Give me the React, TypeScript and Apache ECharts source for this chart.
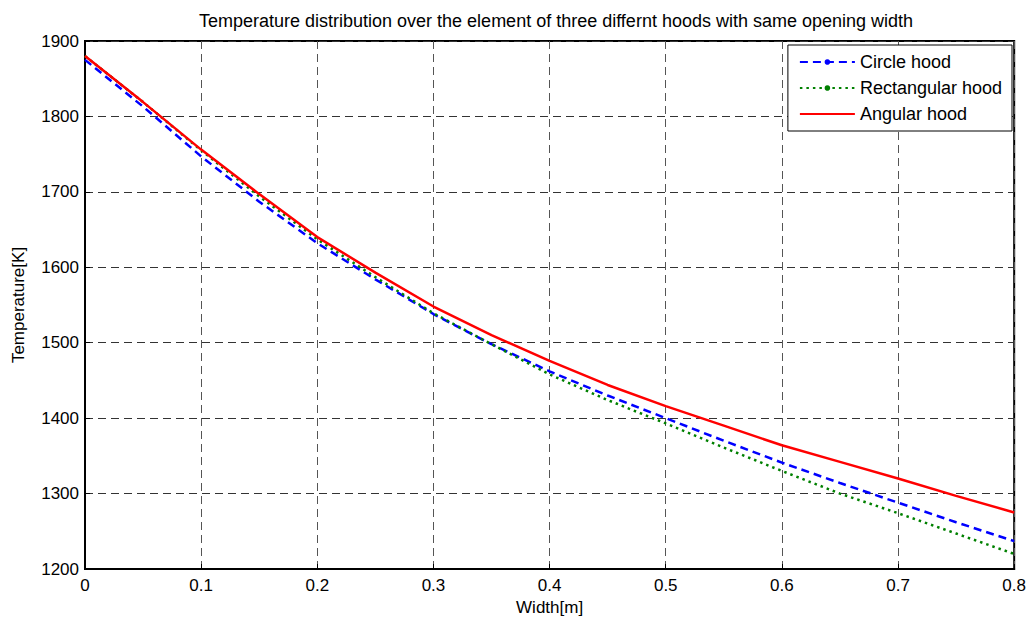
import React, { useEffect, useRef } from "react";
import * as echarts from "echarts";

const widths = [0, 0.05, 0.1, 0.15, 0.2, 0.25, 0.3, 0.35, 0.4, 0.45, 0.5, 0.55, 0.6, 0.65, 0.7, 0.75, 0.8];
const circleHood = [1875, 1813, 1747, 1687, 1632, 1584, 1538, 1498, 1462, 1430, 1400, 1370, 1341, 1314, 1288, 1262, 1237];
const rectangularHood = [1880, 1819, 1755, 1694, 1637, 1587, 1539, 1498, 1458, 1424, 1393, 1361, 1330, 1300, 1274, 1247, 1220];
const angularHood = [1880, 1819, 1756, 1697, 1640, 1593, 1548, 1510, 1476, 1444, 1416, 1390, 1364, 1342, 1320, 1297, 1275];

const seriesNames = ["Circle hood", "Rectangular hood", "Angular hood"];
const titleText = "Temperature distribution over the element of three differnt hoods with same opening width";

const FONT = "'Liberation Sans', Arial, sans-serif";

function pairs(ys: number[]) {
  return widths.map((w, i) => [w, ys[i]]);
}

export default function App() {
  const ref = useRef<HTMLDivElement>(null);
  useEffect(() => {
    if (!ref.current) return;
    const chart = echarts.init(ref.current, undefined, { renderer: "svg" });
    chart.setOption({
      animation: false,
      backgroundColor: "#ffffff",
      title: {
        text: titleText,
        left: 551,
        textAlign: "center",
        top: 7,
        textStyle: { fontFamily: FONT, fontSize: 18, fontWeight: "normal", color: "#000" },
      },
      grid: {
        left: 85,
        right: 12,
        top: 41,
        bottom: 52,
        show: true,
        borderColor: "#000",
        borderWidth: 2,
        backgroundColor: "#fff",
      },
      legend: {
        orient: "vertical",
        right: 17,
        top: 45,
        align: "left",
        backgroundColor: "#fff",
        borderColor: "#000",
        borderWidth: 1,
        padding: [8, 10, 8, 11],
        itemWidth: 55,
        itemHeight: 7,
        itemGap: 8,
        textStyle: { fontFamily: FONT, fontSize: 18, color: "#000", lineHeight: 18 },
        data: [
          { name: seriesNames[0] },
          { name: seriesNames[1] },
          { name: seriesNames[2], itemStyle: { opacity: 0 } },
        ],
      },
      xAxis: {
        type: "value",
        min: 0,
        max: 0.8,
        interval: 0.1,
        name: "Width[m]",
        nameLocation: "middle",
        nameGap: 29,
        nameTextStyle: { fontFamily: FONT, fontSize: 17, color: "#000" },
        axisLine: { show: true, lineStyle: { color: "#000", width: 2 } },
        axisTick: { show: true, inside: true, length: 5, lineStyle: { color: "#000", width: 1 } },
        axisLabel: {
          fontFamily: FONT,
          fontSize: 17,
          color: "#000",
          margin: 8,
          formatter: (v: number) => (v === 0 ? "0" : String(Math.round(v * 10) / 10)),
        },
        splitLine: { show: true, lineStyle: { color: "#555", type: [8, 5], width: 1 } },
      },
      yAxis: {
        type: "value",
        min: 1200,
        max: 1900,
        interval: 100,
        name: "Temperature[K]",
        nameLocation: "middle",
        nameGap: 58,
        nameTextStyle: { fontFamily: FONT, fontSize: 17, color: "#000" },
        axisLine: { show: true, lineStyle: { color: "#000", width: 2 } },
        axisTick: { show: true, inside: true, length: 5, lineStyle: { color: "#000", width: 1 } },
        axisLabel: {
          fontFamily: FONT,
          fontSize: 17,
          color: "#000",
          margin: 6,
          formatter: (v: number) => String(v),
        },
        splitLine: { show: true, lineStyle: { color: "#333", type: [8, 5], width: 1 } },
      },
      series: [
        {
          name: seriesNames[0],
          type: "line",
          data: pairs(circleHood),
          symbol: "circle",
          showSymbol: false,
          itemStyle: { color: "#0000ff" },
          lineStyle: { color: "#0000ff", width: 2.5, type: [8, 5] },
          z: 3,
        },
        {
          name: seriesNames[1],
          type: "line",
          data: pairs(rectangularHood),
          symbol: "circle",
          showSymbol: false,
          itemStyle: { color: "#008000" },
          lineStyle: { color: "#008000", width: 2.5, type: [2.5, 4] },
          z: 4,
        },
        {
          name: seriesNames[2],
          type: "line",
          data: pairs(angularHood),
          symbol: "none",
          showSymbol: false,
          itemStyle: { color: "#ff0000" },
          lineStyle: { color: "#ff0000", width: 2.5, type: "solid" },
          z: 5,
        },
      ],
    });
    return () => chart.dispose();
  }, []);
  return <div ref={ref} style={{ width: 1029, height: 621, position: "absolute", left: 0, top: 0 }} />;
}
